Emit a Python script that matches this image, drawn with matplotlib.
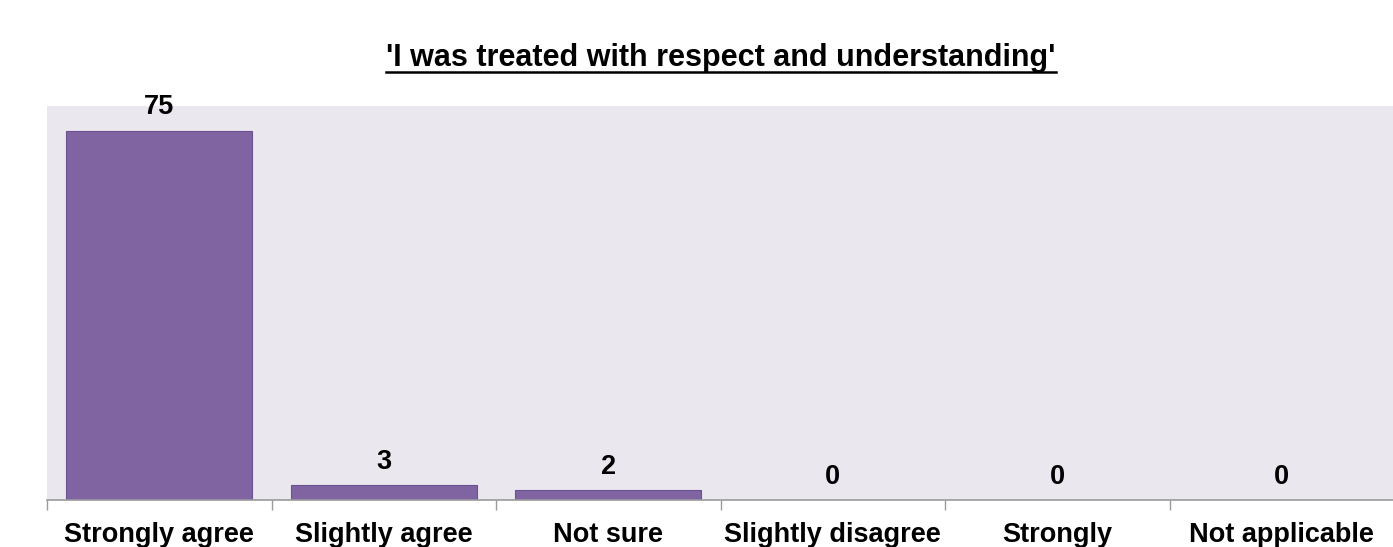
import matplotlib
matplotlib.use("Agg")
import matplotlib.pyplot as plt
from matplotlib.lines import Line2D
import numpy as np

categories = ["Strongly agree", "Slightly agree", "Not sure", "Slightly disagree",
              "Strongly", "Not applicable"]
counts = [75, 3, 2, 0, 0, 0]
title = "'I was treated with respect and understanding'"

plt.rcParams["font.family"] = ["Liberation Sans", "DejaVu Sans"]

fig = plt.figure(figsize=(13.93, 5.47), dpi=100)
ax = fig.add_axes([47 / 1393, 1 - 500 / 547, 1347 / 1393, 394 / 547])
ax.set_facecolor("#EAE7EE")

x = np.arange(len(categories))
bars = ax.bar(x, counts, width=0.83, color="#8064A2", edgecolor="#6A5190", linewidth=0.8)
for b, v in zip(bars, counts):
    ax.text(b.get_x() + b.get_width() / 2, v + 3.3, str(v), ha="center", va="baseline",
            fontsize=19.5, fontweight="bold", clip_on=False)

ax.set_xlim(-0.5, len(categories) - 0.5)
ax.set_ylim(0, 80)
ax.set_yticks([])
ax.set_xticks(x)
ax.set_xticklabels(categories, fontsize=19.5, fontweight="bold")
ax.tick_params(axis="x", length=0, pad=16)
# boundary tick marks between categories
ax.set_xticks(np.arange(len(categories)) - 0.5, minor=True)
ax.tick_params(axis="x", which="minor", length=7, color="#9A9A9A", width=1)
for s in ["top", "right", "left"]:
    ax.spines[s].set_visible(False)
ax.spines["bottom"].set_color("#9A9A9A")
ax.spines["bottom"].set_linewidth(1.2)

t = fig.text(721 / 1393, 1 - 58 / 547, title, ha="center", va="center",
             fontsize=22, fontweight="bold")
fig.canvas.draw()
bb = t.get_window_extent().transformed(fig.transFigure.inverted())
uy = 1 - 72 / 547
fig.add_artist(Line2D([bb.x0, bb.x1], [uy, uy], transform=fig.transFigure,
                      color="black", linewidth=1.8))

fig.savefig("out.png", facecolor="white")
